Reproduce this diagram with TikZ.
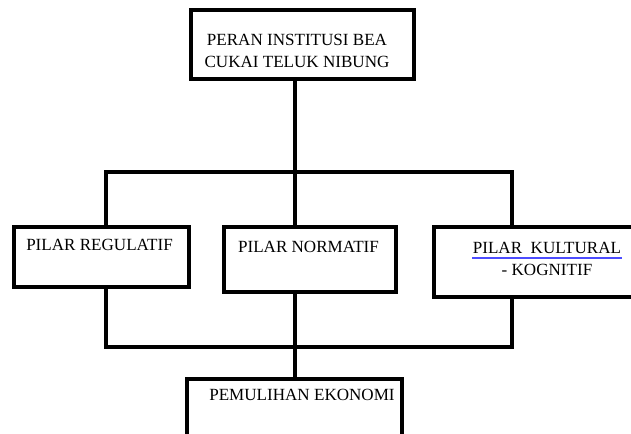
\documentclass[tikz,border=0pt]{standalone}
\usepackage{fontspec}
\setmainfont{Liberation Serif}
\begin{document}
\begin{tikzpicture}[x=0.75pt, y=-0.75pt,
    kotak/.style={draw, line width=2.5pt, inner sep=0pt},
    garis/.style={line width=2.5pt},
    teks/.style={font=\fontsize{12.8}{16.5}\selectfont, inner sep=0pt, align=center}]
            \useasboundingbox (0,0) rectangle (631,434);

            % kotak
            \node[kotak, minimum width=223*0.75pt, minimum height=69*0.75pt] (peran) at (302.5,44.5) {};
            \node[kotak, minimum width=175*0.75pt, minimum height=60*0.75pt] (regulatif) at (101.5,257) {};
            \node[kotak, minimum width=172*0.75pt, minimum height=65*0.75pt] (normatif) at (310,259.5) {};
            \node[kotak, minimum width=210*0.75pt, minimum height=70*0.75pt] (kultural) at (539,262) {};
            \node[kotak, minimum width=215*0.75pt, minimum height=62*0.75pt] (pemulihan) at (294.5,410) {};

            % teks
            \node[teks] (peranT) at (297,51) {PERAN INSTITUSI BEA\\CUKAI TELUK NIBUNG};
            \node[teks] (regulatifT) at (99.5,245) {PILAR REGULATIF};
            \node[teks] (normatifT) at (308.5,247) {PILAR NORMATIF};
            \node[teks] (kulturalT) at (547,259) {PILAR\ \ KULTURAL\\- KOGNITIF};
            \node[teks] (pemulihanT) at (302,395) {PEMULIHAN EKONOMI};
            \draw[blue!70, line width=1.2pt] (472,258) -- (622,258);

            % garis penghubung
            \coordinate (atas) at (295,172);
            \coordinate (bawah) at (295,347);
            \draw[garis] (peran.south -| atas) -- (atas);
            \draw[garis] (regulatif.north -| 106,0) |- (atas) -| (kultural.north -| 512,0);
            \draw[garis] (atas) -- (normatif.north -| atas);
            \draw[garis] (regulatif.south -| 106,0) |- (bawah) -| (kultural.south -| 512,0);
            \draw[garis] (normatif.south -| bawah) -- (bawah) -- (pemulihan.north -| bawah);
        \end{tikzpicture}
\end{document}
